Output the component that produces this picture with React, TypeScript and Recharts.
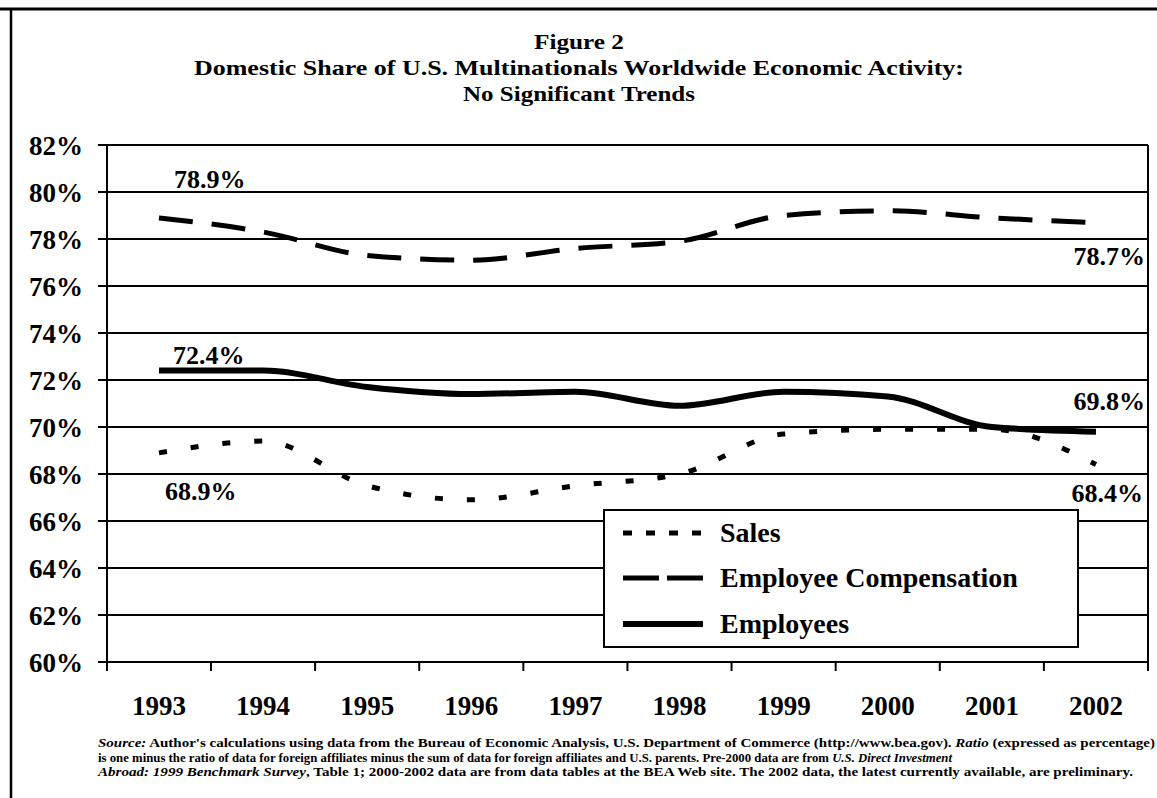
import React from 'react';
import { LineChart, Line, XAxis, YAxis, CartesianGrid, Legend, LabelList } from 'recharts';

const years = ['1993', '1994', '1995', '1996', '1997', '1998', '1999', '2000', '2001', '2002'];
const sales = [68.9, 69.4, 67.5, 66.9, 67.5, 68.0, 69.7, 69.9, 69.9, 68.4];
const compensation = [78.9, 78.3, 77.3, 77.1, 77.6, 77.9, 79.0, 79.2, 78.9, 78.7];
const employees = [72.4, 72.4, 71.7, 71.4, 71.5, 70.9, 71.5, 71.3, 70.0, 69.8];
const yTicks = [60, 62, 64, 66, 68, 70, 72, 74, 76, 78, 80, 82];
const legendOrder = ['sales', 'comp', 'emp'];

const data = years.map((year, i) => ({
  year,
  sales: sales[i],
  comp: compensation[i],
  emp: employees[i],
}));

const FONT = "'Liberation Serif', 'Times New Roman', serif";
const HALF_BAND = 52;

// how each series is drawn (chart line + legend sample)
const styles: Record<string, { dash?: string; width: number; legendDash?: string }> = {
  sales: { dash: '8 24', width: 5, legendDash: '9 14' },
  comp: { dash: '34 19', width: 5, legendDash: '36 8' },
  emp: { width: 6 },
};

// where the first / last value labels sit relative to their point
const labelPos: Record<string, { first: [number, number]; last: [number, number] }> = {
  sales: { first: [6, 47], last: [47, 37] },
  comp: { first: [15, -30], last: [49, 42] },
  emp: { first: [14, -7], last: [49, -22] },
};

const endLabel = (key: string) => (props: any) => {
  const { x, y, value, index } = props;
  if (index !== 0 && index !== data.length - 1) return null;
  const first = index === 0;
  const [dx, dy] = first ? labelPos[key].first : labelPos[key].last;
  return (
    <text
      x={x + dx}
      y={y + dy}
      textAnchor={first ? 'start' : 'end'}
      fontFamily={FONT}
      fontWeight="bold"
      fontSize={26}
      fill="#000"
    >
      {`${Number(value).toFixed(1)}%`}
    </text>
  );
};

const YearTick = (props: any) => {
  const { x, y, payload, index } = props;
  return (
    <g>
      <line x1={x + HALF_BAND} x2={x + HALF_BAND} y1={y} y2={y + 9} stroke="#000" strokeWidth={2} />
      {index === 0 && <line x1={x - HALF_BAND} x2={x - HALF_BAND} y1={y} y2={y + 9} stroke="#000" strokeWidth={2} />}
      <text x={x} y={y + 53} textAnchor="middle" fontFamily={FONT} fontWeight="bold" fontSize={27} fill="#000">
        {payload.value}
      </text>
    </g>
  );
};

const rowY = [24, 69, 115];

const renderLegend = (props: any) => {
  const items = [...(props.payload || [])].sort(
    (a: any, b: any) => legendOrder.indexOf(a.dataKey) - legendOrder.indexOf(b.dataKey)
  );
  return (
    <svg width={476} height={139} style={{ display: 'block' }}>
      <rect x={1} y={1} width={474} height={137} fill="#fff" stroke="#000" strokeWidth={2} />
      {items.map((item: any, i: number) => {
        const s = styles[item.dataKey];
        return (
          <g key={item.dataKey}>
            <line
              x1={20}
              x2={100}
              y1={rowY[i]}
              y2={rowY[i]}
              stroke="#000"
              strokeWidth={s.width}
              strokeDasharray={s.legendDash}
            />
            <text x={117} y={rowY[i] + 9} fontFamily={FONT} fontWeight="bold" fontSize={28} fill="#000">
              {item.value}
            </text>
          </g>
        );
      })}
    </svg>
  );
};

export default function App() {
  return (
    <div style={{ position: 'absolute', left: 0, top: 0, width: 1157, height: 798, background: '#fff' }}>
      <LineChart width={1157} height={798} data={data} margin={{ top: 145, right: 8, bottom: 76, left: 0 }}>
        <CartesianGrid yAxisId="left" vertical={false} stroke="#000" strokeWidth={2} />
        <XAxis
          dataKey="year"
          padding={{ left: HALF_BAND, right: HALF_BAND }}
          interval={0}
          height={60}
          tickSize={0}
          tickMargin={0}
          tickLine={false}
          axisLine={{ stroke: '#000', strokeWidth: 2 }}
          tick={<YearTick />}
        />
        <YAxis
          yAxisId="left"
          domain={[60, 82]}
          ticks={yTicks}
          width={107}
          tickSize={9}
          tickMargin={15}
          tickFormatter={(v) => `${v}%`}
          tick={{ fill: '#000', fontSize: 27, fontWeight: 'bold', fontFamily: FONT }}
          tickLine={{ stroke: '#000', strokeWidth: 2 }}
          axisLine={{ stroke: '#000', strokeWidth: 2 }}
        />
        <YAxis
          yAxisId="right"
          orientation="right"
          domain={[60, 82]}
          width={1}
          tick={false}
          tickLine={false}
          axisLine={{ stroke: '#000', strokeWidth: 2 }}
        />
        <Legend
          layout="vertical"
          align="center"
          verticalAlign="middle"
          content={renderLegend}
          wrapperStyle={{ left: 603, top: 509, width: 476, height: 139 }}
        />
        <Line
          yAxisId="left"
          type="monotone"
          dataKey="sales"
          name="Sales"
          stroke="#000"
          strokeWidth={styles.sales.width}
          strokeDasharray={styles.sales.dash}
          dot={false}
          isAnimationActive={false}
        >
          <LabelList dataKey="sales" content={endLabel('sales')} />
        </Line>
        <Line
          yAxisId="left"
          type="monotone"
          dataKey="comp"
          name="Employee Compensation"
          stroke="#000"
          strokeWidth={styles.comp.width}
          strokeDasharray={styles.comp.dash}
          dot={false}
          isAnimationActive={false}
        >
          <LabelList dataKey="comp" content={endLabel('comp')} />
        </Line>
        <Line
          yAxisId="left"
          type="monotone"
          dataKey="emp"
          name="Employees"
          stroke="#000"
          strokeWidth={styles.emp.width}
          dot={false}
          isAnimationActive={false}
        >
          <LabelList dataKey="emp" content={endLabel('emp')} />
        </Line>
      </LineChart>

      <svg
        width={1157}
        height={798}
        style={{ position: 'absolute', left: 0, top: 0, pointerEvents: 'none' }}
        fontFamily={FONT}
        fill="#000"
      >
        <line x1={0} x2={1157} y1={9} y2={9} stroke="#000" strokeWidth={3} />
        <line x1={11} x2={11} y1={8} y2={798} stroke="#000" strokeWidth={2.5} />
        <g fontWeight="bold" fontSize={22} textAnchor="middle">
          <text x={579} y={49} textLength={90} lengthAdjust="spacingAndGlyphs">Figure 2</text>
          <text x={579} y={75} textLength={770} lengthAdjust="spacingAndGlyphs">
            Domestic Share of U.S. Multinationals Worldwide Economic Activity:
          </text>
          <text x={579} y={101} textLength={232} lengthAdjust="spacingAndGlyphs">No Significant Trends</text>
        </g>
        <g fontWeight="bold" fontSize={12}>
          <text x={98} y={747} textLength={1057} lengthAdjust="spacingAndGlyphs">
            <tspan fontStyle="italic">Source:</tspan> Author's calculations using data from the Bureau of Economic
            Analysis, U.S. Department of Commerce (http://www.bea.gov). <tspan fontStyle="italic">Ratio</tspan>{' '}
            (expressed as percentage)
          </text>
          <text x={98} y={761.5} textLength={854} lengthAdjust="spacingAndGlyphs">
            is one minus the ratio of data for foreign affiliates minus the sum of data for foreign affiliates and
            U.S. parents. Pre-2000 data are from <tspan fontStyle="italic">U.S. Direct Investment</tspan>
          </text>
          <text x={98} y={776} textLength={1035} lengthAdjust="spacingAndGlyphs">
            <tspan fontStyle="italic">Abroad: 1999 Benchmark Survey</tspan>, Table 1; 2000-2002 data are from data
            tables at the BEA Web site. The 2002 data, the latest currently available, are preliminary.
          </text>
        </g>
      </svg>
    </div>
  );
}
